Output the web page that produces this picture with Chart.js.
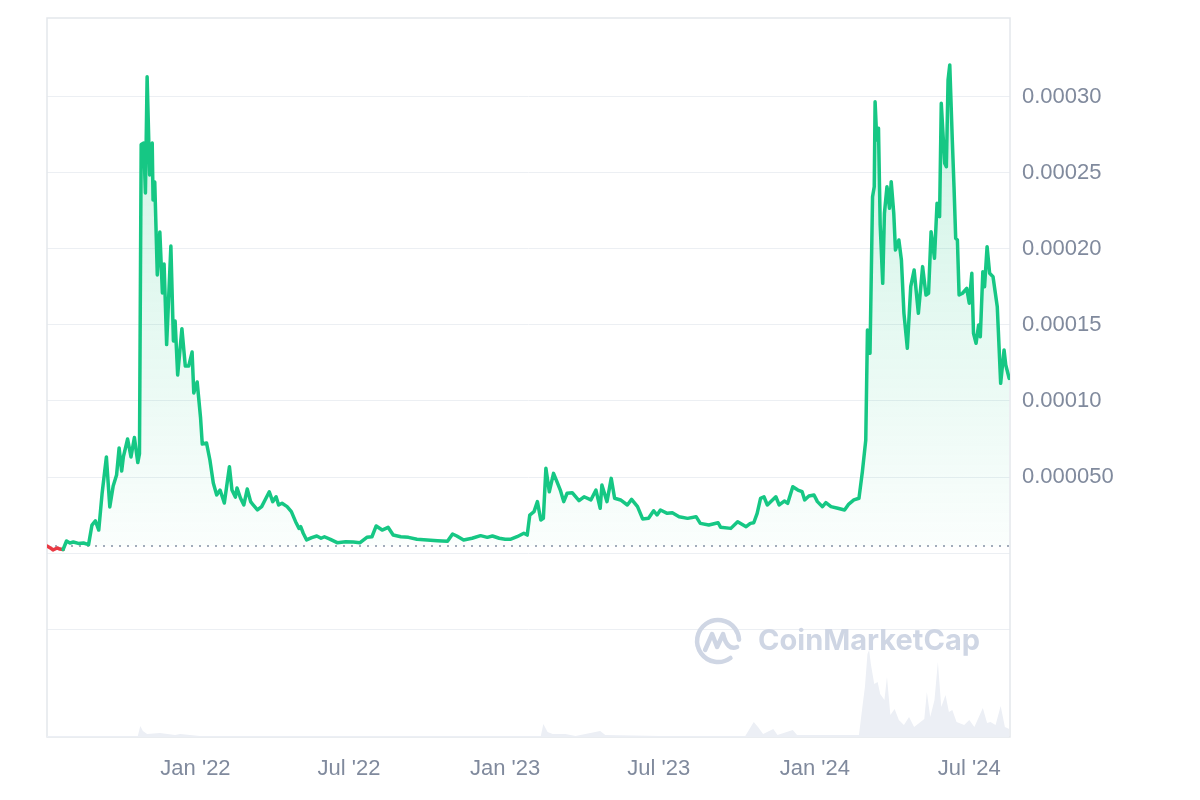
<!DOCTYPE html>
<html>
<head>
<meta charset="utf-8">
<script src="https://cdn.jsdelivr.net/npm/chart.js@4.4.1/dist/chart.umd.min.js"></script>
<style>
  html, body { margin: 0; padding: 0; background: #fff; }
  #wrap { width: 1200px; height: 800px; }
</style>
</head>
<body>
<div id="wrap"><canvas id="chart"></canvas></div>
<script>
// days counted from the first candle
const startDate = '2021-07-10';

const tickDates = ['2022-01-01', '2022-07-01', '2023-01-01', '2023-07-01', '2024-01-01', '2024-07-01'];
const tickLabels = ["Jan '22", "Jul '22", "Jan '23", "Jul '23", "Jan '24", "Jul '24"];

const priceTicks = [-0.00005, 0, 0.00005, 0.0001, 0.00015, 0.0002, 0.00025, 0.0003];

// price, in millionths of a dollar
const days = [
  0, 4, 7, 12, 15, 19, 23, 27, 31, 37, 43, 49, 53, 57, 61, 65, 70, 74, 78, 82,
  85, 88, 90, 95, 99, 103, 107, 109, 111, 114, 116, 118, 121, 124, 125, 127, 130, 133, 136, 138,
  141, 146, 149, 151, 154, 159, 163, 167, 171, 173, 177, 181, 183, 188, 192, 196, 200, 204, 209, 215,
  218, 222, 224, 228, 232, 236, 240, 243, 248, 253, 257, 262, 266, 270, 273, 277, 283, 288, 293, 297,
  299, 302, 306, 312, 318, 323, 327, 334, 342, 352, 361, 369, 377, 383, 388, 395, 402, 408, 417, 426,
  436, 448, 460, 472, 478, 483, 491, 501, 511, 519, 525, 533, 540, 546, 554, 562, 566, 569, 574, 578,
  582, 585, 588, 592, 597, 601, 605, 609, 613, 619, 627, 633, 641, 647, 652, 654, 660, 665, 669, 676,
  684, 689, 696, 702, 709, 715, 719, 723, 731, 737, 745, 755, 765, 770, 780, 791, 794, 806, 814, 824,
  829, 833, 837, 841, 845, 849, 859, 863, 869, 873, 879, 885, 890, 893, 898, 904, 908, 914, 918, 924,
  932, 940, 945, 951, 957, 961, 965, 967, 970, 973, 975, 976, 978, 980, 982, 985, 987, 990, 993, 995,
  998, 1000, 1004, 1007, 1010, 1014, 1018, 1022, 1027, 1032, 1036, 1039, 1042, 1046, 1049, 1052, 1054, 1058, 1060, 1062,
  1064, 1067, 1069, 1071, 1073, 1075, 1079, 1084, 1087, 1090, 1092, 1095, 1098, 1100, 1103, 1105, 1108, 1111, 1115, 1120,
  1124, 1128, 1130, 1134
];
const priceMicro = [
  4.6, 3.3, 2.0, 3.3, 2.6, 2.3, 7.9, 6.6, 7.2, 6.3, 6.6, 5.5, 18.4, 21.1, 15.1, 39.5, 63.2, 30.3, 44.1, 51.3,
  69.1, 53.9, 63.2, 75.0, 63.2, 76.0, 59.5, 65.4, 268.7, 269.7, 236.8, 313.3, 248.7, 269.7, 232.2, 244.1, 182.9, 211.2, 171.1, 190.1,
  137.1, 202.0, 139.5, 152.6, 117.1, 147.6, 123.0, 123.0, 132.2, 105.3, 112.5, 88.8, 71.7, 72.4, 61.2, 46.1, 38.2, 41.4, 32.9, 56.8,
  41.4, 36.8, 42.8, 36.2, 31.6, 42.1, 33.8, 31.6, 28.3, 30.5, 34.9, 40.3, 33.8, 37.0, 31.6, 32.7, 30.5, 27.2, 20.6, 16.2,
  17.3, 13.0, 8.6, 10.1, 11.2, 9.7, 10.7, 9.0, 6.8, 7.4, 7.2, 6.8, 10.3, 10.7, 17.8, 15.1, 16.9, 11.8, 10.7, 10.3,
  9.0, 8.6, 8.1, 7.7, 12.5, 11.2, 8.6, 9.7, 11.4, 10.3, 11.2, 9.7, 9.0, 9.0, 10.7, 13.0, 11.8, 25.0, 27.2, 33.8,
  21.7, 22.8, 55.7, 40.3, 52.4, 46.9, 41.4, 33.8, 39.3, 39.7, 34.4, 37.0, 34.9, 41.4, 29.4, 44.7, 33.8, 49.1, 36.0, 34.9,
  31.6, 35.3, 30.5, 22.4, 22.8, 27.8, 25.0, 28.3, 26.1, 26.5, 23.9, 22.8, 23.9, 19.5, 18.4, 19.9, 16.9, 16.2, 20.6, 17.3,
  19.5, 19.9, 26.1, 36.0, 37.0, 31.6, 37.0, 31.6, 34.2, 32.7, 43.6, 41.4, 40.3, 34.9, 37.5, 38.2, 33.8, 30.5, 33.1, 30.5,
  29.4, 28.3, 32.2, 34.9, 36.0, 53.5, 74.3, 146.7, 131.4, 234.4, 241.0, 296.9, 271.7, 279.4, 215.8, 177.4, 223.5, 241.0, 226.8, 244.3,
  223.5, 199.3, 205.9, 192.8, 157.7, 134.7, 175.2, 186.2, 157.7, 188.4, 169.7, 170.9, 211.4, 193.9, 230.1, 221.3, 295.9, 256.4, 254.1, 311.2,
  321.1, 271.7, 241.0, 207.0, 205.9, 169.7, 170.9, 174.1, 164.3, 184.0, 144.5, 138.0, 150.0, 142.3, 185.1, 175.2, 201.5, 184.0, 181.8, 162.0,
  111.6, 133.6, 123.7, 114.9
];

// 24h volume, relative units
const volDays = [
  0, 62, 107, 110, 113, 118, 133, 151, 157, 180, 298, 534, 582, 585, 590, 596, 611, 623, 652, 658,
  723, 823, 833, 838, 844, 856, 861, 879, 884, 957, 961, 964, 967, 969, 971, 975, 979, 982, 987, 990,
  994, 999, 1004, 1010, 1016, 1022, 1028, 1034, 1037, 1041, 1046, 1050, 1054, 1059, 1063, 1067, 1072, 1075, 1081, 1087,
  1093, 1103, 1108, 1112, 1118, 1124, 1129, 1134
];
const volume = [
  1, 1, 1, 11, 6, 3, 4, 2, 3, 1, 1, 1, 1, 13, 5, 3, 3, 1, 6, 2,
  1, 1, 15, 10, 3, 8, 2, 7, 2, 2, 30, 50, 83, 87, 73, 53, 55, 43, 37, 60,
  22, 28, 17, 12, 20, 10, 14, 18, 45, 20, 37, 75, 30, 42, 25, 27, 15, 14, 12, 17,
  10, 29, 14, 15, 12, 31, 10, 8
];

const GREEN = '#16c784';
const RED = '#ea3943';
const GRID = '#eceff3';
const LABEL = '#808a9d';

const dayMs = 86400000;
const toDay = s => Math.round((Date.parse(s) - Date.parse(startDate)) / dayMs);
const tickDays = tickDates.map(toDay);
const lastDay = days[days.length - 1] + 1;

const price = priceMicro.map(v => v * 1e-6);
const basePrice = price[0];

const pricePoints = days.map((d, i) => ({ x: d, y: price[i] }));
const volPoints = volDays.map((d, i) => ({ x: d, y: volume[i] }));

const frame = {
  id: 'frame',
  beforeDatasetsDraw(chart) {
    const { ctx, chartArea: a } = chart;
    ctx.save();
    ctx.strokeStyle = '#e4e7ec';
    ctx.lineWidth = 1.5;
    ctx.strokeRect(a.left, a.top, a.right - a.left, a.bottom - a.top);
    ctx.restore();
  }
};

const watermark = {
  id: 'watermark',
  beforeDatasetsDraw(chart) {
    const { ctx, chartArea: a } = chart;
    const text = 'CoinMarketCap';
    ctx.save();
    ctx.fillStyle = '#cfd6e4';
    ctx.strokeStyle = '#cfd6e4';
    ctx.font = 'bold 29px Inter, sans-serif';
    ctx.textAlign = 'right';
    ctx.textBaseline = 'middle';
    const tx = a.right - 30, ty = a.bottom - 96;
    ctx.fillText(text, tx, ty);
    const w = ctx.measureText(text).width;
    const cx = tx - w - 40, cy = ty;
    ctx.lineWidth = 4.5;
    ctx.lineCap = 'round';
    ctx.lineJoin = 'round';
    ctx.beginPath();
    ctx.arc(cx, cy, 21, 0.3 * Math.PI, 1.98 * Math.PI);
    ctx.stroke();
    ctx.beginPath();
    ctx.moveTo(cx - 13, cy + 9);
    ctx.lineTo(cx - 6, cy - 7);
    ctx.lineTo(cx - 1, cy + 6);
    ctx.lineTo(cx + 5, cy - 7);
    ctx.quadraticCurveTo(cx + 9, cy + 10, cx + 19, cy + 6);
    ctx.stroke();
    ctx.restore();
  }
};

new Chart(document.getElementById('chart'), {
  type: 'line',
  data: {
    datasets: [
      {
        label: 'Price',
        data: pricePoints,
        yAxisID: 'y',
        borderColor: GREEN,
        borderWidth: 3.5,
        borderJoinStyle: 'round',
        borderCapStyle: 'round',
        pointRadius: 0,
        tension: 0,
        order: 0,
        fill: { value: basePrice },
        backgroundColor: (ctx) => {
          const chart = ctx.chart;
          const a = chart.chartArea;
          if (!a) return 'transparent';
          const yBase = chart.scales.y.getPixelForValue(basePrice);
          const g = chart.ctx.createLinearGradient(0, a.top + 40, 0, yBase);
          g.addColorStop(0, 'rgba(22,199,132,0.22)');
          g.addColorStop(1, 'rgba(22,199,132,0.02)');
          return g;
        },
        segment: {
          borderColor: (ctx) => (ctx.p0.parsed.y <= basePrice && ctx.p1.parsed.y < basePrice) ? RED : undefined
        }
      },
      {
        label: 'Open',
        data: [{ x: 0, y: basePrice }, { x: lastDay, y: basePrice }],
        yAxisID: 'y',
        borderColor: '#a3abbb',
        borderWidth: 2,
        borderDash: [2, 6],
        pointRadius: 0,
        fill: false,
        order: 1
      },
      {
        label: 'Volume',
        data: volPoints,
        yAxisID: 'yv',
        borderWidth: 0,
        pointRadius: 0,
        tension: 0,
        fill: 'origin',
        backgroundColor: '#eceff5',
        order: 2
      }
    ]
  },
  options: {
    responsive: true,
    maintainAspectRatio: false,
    animation: false,
    layout: { padding: { left: 47, top: 18, right: 0, bottom: 0 } },
    plugins: {
      legend: { display: false },
      tooltip: { enabled: false }
    },
    scales: {
      x: {
        type: 'linear',
        min: 0,
        max: lastDay,
        grid: { display: false, drawTicks: false },
        border: { display: false },
        afterBuildTicks: (scale) => { scale.ticks = tickDays.map(v => ({ value: v })); },
        afterFit: (scale) => { scale.height = 63; },
        ticks: {
          autoSkip: false,
          maxRotation: 0,
          padding: 19,
          color: LABEL,
          font: { family: '"Liberation Sans", Arial, sans-serif', size: 22 },
          callback: (v) => tickLabels[tickDays.indexOf(v)]
        }
      },
      y: {
        position: 'right',
        min: -0.00012105,
        max: 0.00035197,
        grid: {
          drawTicks: false,
          color: (ctx) => (ctx.tick && ctx.tick.value >= -0.00006) ? GRID : 'transparent'
        },
        border: { display: false },
        afterBuildTicks: (scale) => { scale.ticks = priceTicks.map(v => ({ value: v })); },
        afterFit: (scale) => {
          scale.width = 190;
          scale.paddingTop = 0;
          scale.paddingBottom = 0;
        },
        ticks: {
          padding: 12,
          color: LABEL,
          font: { family: '"Liberation Sans", Arial, sans-serif', size: 22 },
          callback: (v) => v > 0 ? v.toPrecision(2) : ''
        }
      },
      yv: {
        display: false,
        min: 0,
        max: 720
      }
    }
  },
  plugins: [frame, watermark]
});
</script>
</body>
</html>
